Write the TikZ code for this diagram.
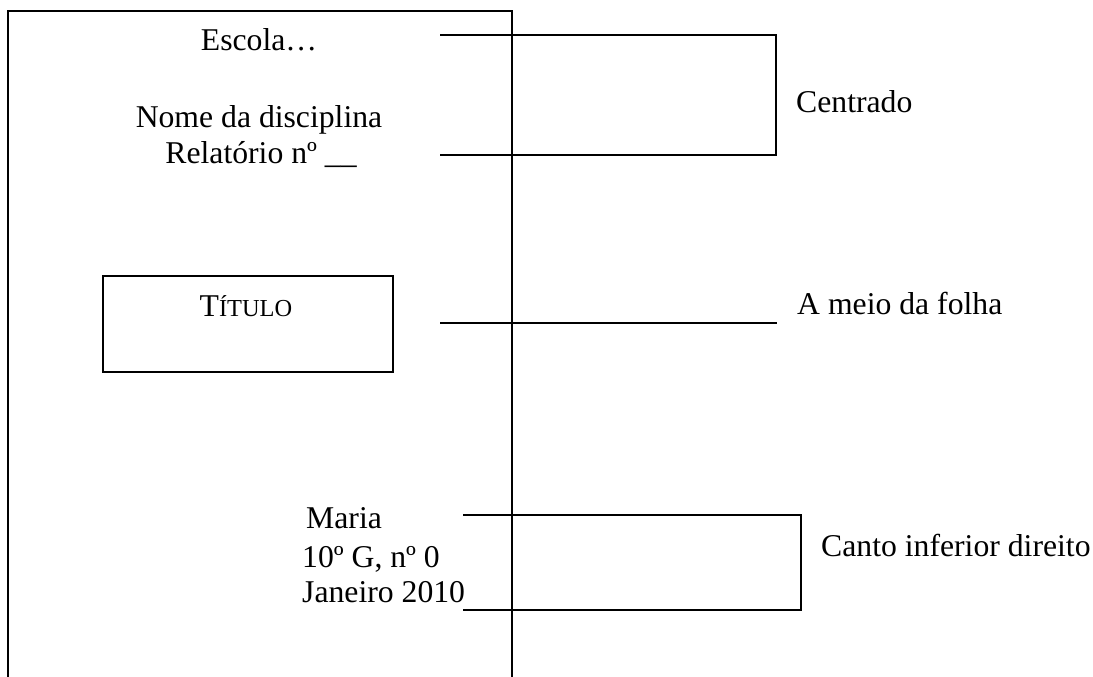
\documentclass[tikz,border=0pt]{standalone}
\usepackage{fontspec}
\setmainfont{Liberation Serif}
\begin{document}
\begin{tikzpicture}[x=1pt,y=-1pt,
  txt/.style={inner sep=0pt,font=\fontsize{31.7}{38}\selectfont},
  ln/.style={line width=2pt},
  boxline/.style={line width=2.2pt}]
\useasboundingbox (0,0) rectangle (1093,677);
% page
\coordinate (pbl) at (8,677);
\coordinate (ptl) at (8,11);
\coordinate (ptr) at (512,11);
\coordinate (pbr) at (512,677);
\draw[ln] (pbl) -- (ptl) -- (ptr) -- (pbr);
% header texts
\node[txt,anchor=base] (esc) at (259,51) {Escola…};
\node[txt,anchor=base] (disc) at (259,127) {Nome da disciplina};
\node[txt,anchor=base] (rel) at (261,163) {Relatório nº \_\_};
% title box
\node[draw,boxline,minimum width=290pt,minimum height=96pt,inner sep=0pt] (tbox) at (248,324) {};
\node[txt,anchor=base] (ttl) at (246,316) {T{\fontsize{24.4}{30}\selectfont ÍTULO}};
% author block
\node[txt,anchor=base west] (maria) at (306,528) {Maria};
\node[txt,anchor=base west] (turma) at (302,567) {10º G, nº 0};
\node[txt,anchor=base west] (data) at (302,602) {Janeiro 2010};
% right labels
\node[txt,anchor=base west] (cent) at (796,112) {Centrado};
\node[txt,anchor=base west] (meio) at (797,314) {A meio da folha};
\node[txt,anchor=base west] (canto) at (821,556) {Canto inferior direito};
% bracket 1
\coordinate (a1) at (440,35);
\coordinate (a2) at (776,35);
\coordinate (a3) at (776,155);
\coordinate (a4) at (440,155);
\draw[ln] (a1) -- (a2) -- (a3) -- (a4);
% middle line
\coordinate (m1) at (440,323);
\coordinate (m2) at (777,323);
\draw[ln] (m1) -- (m2);
% bracket 3
\coordinate (b1) at (463,515);
\coordinate (b2) at (801,515);
\coordinate (b3) at (801,610);
\coordinate (b4) at (463,610);
\draw[ln] (b1) -- (b2) -- (b3) -- (b4);
\end{tikzpicture}
\end{document}
